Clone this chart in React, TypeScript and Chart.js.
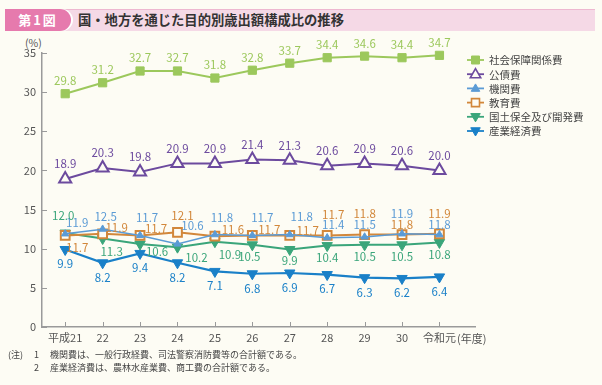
import React, { useEffect, useRef } from "react";
import { Chart, registerables } from "chart.js";
Chart.register(...registerables);

const categories = ["平成21", "22", "23", "24", "25", "26", "27", "28", "29", "30", "令和元"];
const seriesNames = ["社会保障関係費", "公債費", "機関費", "教育費", "国土保全及び開発費", "産業経済費"];
const socialSecurity = [29.8, 31.2, 32.7, 32.7, 31.8, 32.8, 33.7, 34.4, 34.6, 34.4, 34.7];
const publicDebt = [18.9, 20.3, 19.8, 20.9, 20.9, 21.4, 21.3, 20.6, 20.9, 20.6, 20.0];
const administration = [11.9, 12.5, 11.7, 10.6, 11.8, 11.7, 11.8, 11.4, 11.5, 11.9, 11.8];
const education = [11.7, 11.9, 11.7, 12.1, 11.6, 11.7, 11.7, 11.7, 11.8, 11.8, 11.9];
const landConservation = [12.0, 11.3, 10.6, 10.2, 10.9, 10.5, 9.9, 10.4, 10.5, 10.5, 10.8];
const industry = [9.9, 8.2, 9.4, 8.2, 7.1, 6.8, 6.9, 6.7, 6.3, 6.2, 6.4];
const yTicks = [0, 5, 10, 15, 20, 25, 30, 35];
const notes = [
  ["(注)", "1", "機関費は、一般行政経費、司法警察消防費等の合計額である。"],
  ["", "2", "産業経済費は、農林水産業費、商工費の合計額である。"],
];

const BG = "#fdfcf4";
const FONT = "'Noto Sans CJK JP', 'Noto Sans', sans-serif";

type Style = {
  color: string;
  pointStyle: string;
  radius: number;
  legendSize: number;
  fill: string;
  rotation: number;
  lineWidth: number;
  pointBorder: number;
  offsets: number[][];
};

const same = (dx: number, dy: number) => categories.map(() => [dx, dy]);

const styles: Style[] = [
  { color: "#9cc85c", pointStyle: "rect", radius: 5.8, legendSize: 4, fill: "#9cc85c", rotation: 0, lineWidth: 2, pointBorder: 1, offsets: same(0, -13) },
  { color: "#6c4a9e", pointStyle: "triangle", radius: 7, legendSize: 5.5, fill: BG, rotation: 0, lineWidth: 2, pointBorder: 2, offsets: same(0, -15) },
  {
    color: "#5b9bd5", pointStyle: "triangle", radius: 4.2, legendSize: 4.5, fill: "#5b9bd5", rotation: 0, lineWidth: 1.5, pointBorder: 1,
    offsets: [[12, -11], [3, -13], [7, -18], [15, -18], [7, -17], [10, -18], [12, -18], [6, -13], [0, -12], [0, -20], [0, -10]],
  },
  {
    color: "#d2873a", pointStyle: "rect", radius: 6.2, legendSize: 4, fill: BG, rotation: 0, lineWidth: 2, pointBorder: 2,
    offsets: [[12, 12], [14, -6], [16, -7], [5, -17], [18, -7], [17, -6], [18, -5], [6, -21], [0, -21], [0, -10], [0, -20]],
  },
  {
    color: "#3aa57a", pointStyle: "triangle", radius: 6, legendSize: 5, fill: "#3aa57a", rotation: 180, lineWidth: 2, pointBorder: 1,
    offsets: [[-2, -17], [9, 13], [17, 8], [19, 10], [15, 13], [-3, 12], [0, 11], [0, 12], [0, 12], [0, 12], [0, 12]],
  },
  { color: "#1a80c8", pointStyle: "triangle", radius: 6, legendSize: 5, fill: "#1a80c8", rotation: 180, lineWidth: 2.2, pointBorder: 1, offsets: same(0, 14.5) },
];

const seriesValues = [socialSecurity, publicDebt, administration, education, landConservation, industry];

function legendMarker(ctx: CanvasRenderingContext2D, st: Style, x: number, y: number) {
  const s = st.legendSize;
  ctx.beginPath();
  if (st.pointStyle === "rect") {
    ctx.rect(x - s, y - s, 2 * s, 2 * s);
  } else if (st.rotation === 0) {
    ctx.moveTo(x, y - s);
    ctx.lineTo(x + s * 0.95, y + s * 0.65);
    ctx.lineTo(x - s * 0.95, y + s * 0.65);
    ctx.closePath();
  } else {
    ctx.moveTo(x, y + s);
    ctx.lineTo(x + s * 0.95, y - s * 0.65);
    ctx.lineTo(x - s * 0.95, y - s * 0.65);
    ctx.closePath();
  }
  ctx.fillStyle = st.fill;
  ctx.fill();
  ctx.strokeStyle = st.color;
  ctx.lineWidth = st.pointBorder === 2 ? 1.6 : 1;
  ctx.stroke();
}

const labelPlugin = {
  id: "valueLabels",
  afterDatasetsDraw(chart: any) {
    const ctx = chart.ctx;
    ctx.save();
    ctx.font = `11.5px ${FONT}`;
    ctx.textAlign = "center";
    ctx.textBaseline = "middle";
    chart.data.datasets.forEach((ds: any, di: number) => {
      const meta = chart.getDatasetMeta(di);
      const st = styles[di];
      ctx.fillStyle = st.color;
      meta.data.forEach((el: any, i: number) => {
        const v = ds.data[i].y;
        const [dx, dy] = st.offsets[i];
        ctx.fillText(v.toFixed(1), el.x + dx, el.y + dy);
      });
    });
    ctx.restore();
  },
};

const axisTickPlugin = {
  id: "innerTicks",
  afterDraw(chart: any) {
    const ctx = chart.ctx;
    const x = chart.scales.x;
    const y = chart.scales.y;
    const area = chart.chartArea;
    ctx.save();
    ctx.strokeStyle = "#9a9a9a";
    ctx.lineWidth = 1;
    yTicks.forEach((t) => {
      const py = Math.round(y.getPixelForValue(t)) + 0.5;
      ctx.beginPath();
      ctx.moveTo(area.left, py);
      ctx.lineTo(area.left + 5, py);
      ctx.stroke();
    });
    categories.forEach((_, i) => {
      const px = Math.round(x.getPixelForValue(i)) + 0.5;
      ctx.beginPath();
      ctx.moveTo(px, area.bottom);
      ctx.lineTo(px, area.bottom - 5);
      ctx.stroke();
    });
    ctx.restore();
  },
};

const legendPlugin = {
  id: "customLegend",
  afterDraw(chart: any) {
    const ctx = chart.ctx;
    ctx.save();
    seriesNames.forEach((name, i) => {
      const st = styles[i];
      const y = 60 + i * 14.2;
      ctx.strokeStyle = st.color;
      ctx.lineWidth = 1.8;
      ctx.beginPath();
      ctx.moveTo(467, y);
      ctx.lineTo(484, y);
      ctx.stroke();
      legendMarker(ctx, st, 475.5, y);
      ctx.font = `10.5px ${FONT}`;
      ctx.fillStyle = "#444";
      ctx.textAlign = "left";
      ctx.textBaseline = "middle";
      ctx.fillText(name, 489, y + 0.5);
    });
    ctx.restore();
  },
};

export default function App() {
  const ref = useRef<HTMLCanvasElement>(null);
  useEffect(() => {
    document.body.style.margin = "0";
    document.body.style.background = BG;
    const chart = new Chart(ref.current!, {
      type: "line",
      data: {
        datasets: seriesNames.map((name, di) => {
          const st = styles[di];
          return {
            label: name,
            data: seriesValues[di].map((v, i) => ({ x: i, y: v })),
            borderColor: st.color,
            backgroundColor: st.fill,
            borderWidth: st.lineWidth,
            pointStyle: st.pointStyle as any,
            pointRadius: st.radius,
            pointRotation: st.rotation,
            pointBackgroundColor: st.fill,
            pointBorderColor: st.color,
            pointBorderWidth: st.pointBorder,
            tension: 0,
            clip: false as any,
          };
        }),
      },
      options: {
        animation: false,
        responsive: false,
        devicePixelRatio: 1,
        layout: { padding: { left: 0, right: 127, top: 53, bottom: 38 } },
        plugins: { legend: { display: false }, tooltip: { enabled: false } },
        scales: {
          x: {
            type: "linear",
            min: -0.62,
            max: 10.95,
            afterFit: (s: any) => { s.height = 20; },
            afterBuildTicks: (s: any) => { s.ticks = categories.map((_, i) => ({ value: i })); },
            grid: { display: false, drawTicks: false },
            border: { color: "#9a9a9a", width: 1.5 },
            ticks: {
              padding: 4,
              color: "#555",
              font: { size: 11, family: FONT },
              callback: (v: any) => categories[v as number] ?? "",
              maxRotation: 0,
              autoSkip: false,
            },
          },
          y: {
            min: 0,
            max: 35,
            afterFit: (s: any) => { s.width = 42; },
            afterBuildTicks: (s: any) => { s.ticks = yTicks.map((v) => ({ value: v })); },
            grid: { display: false, drawTicks: false },
            border: { color: "#9a9a9a", width: 1.5 },
            ticks: { padding: 6, color: "#555", font: { size: 11, family: FONT } },
          },
        },
      },
      plugins: [axisTickPlugin, labelPlugin, legendPlugin],
    });
    return () => chart.destroy();
  }, []);

  return (
    <div style={{ position: "fixed", left: 0, top: 0, width: 602, height: 385, background: BG, fontFamily: FONT, overflow: "hidden" }}>
      <div style={{ position: "absolute", left: 5, top: 9, width: 590, height: 21, background: "#f5d9e6", borderTop: "1px solid #eeb8d0" }} />
      <div style={{ position: "absolute", left: 5, top: 9, width: 66, height: 22, background: "#e67aad", borderRadius: "0 11px 11px 0", boxShadow: "2px 0 0 #fff", color: "#fff", fontWeight: 700, fontSize: 13, letterSpacing: 2, lineHeight: "22px", textAlign: "center" }}>第1図</div>
      <div style={{ position: "absolute", left: 78, top: 9, height: 22, lineHeight: "22px", fontSize: 13.3, fontWeight: 700, color: "#333", whiteSpace: "nowrap" }}>国・地方を通じた目的別歳出額構成比の推移</div>
      <div style={{ position: "absolute", left: 25, top: 35, fontSize: 10.5, color: "#555" }}>(%)</div>
      <canvas ref={ref} width={602} height={385} style={{ position: "absolute", left: 0, top: 0 }} />
      <div style={{ position: "absolute", left: 457, top: 330, fontSize: 11, color: "#555", whiteSpace: "nowrap" }}>(年度)</div>
      {notes.map((n, i) => (
        <div key={i} style={{ position: "absolute", top: 348 + i * 13, left: 8, fontSize: 9, color: "#444", whiteSpace: "nowrap", lineHeight: "13px" }}>
          <span style={{ display: "inline-block", width: 26 }}>{n[0]}</span>
          <span style={{ display: "inline-block", width: 16 }}>{n[1]}</span>
          <span>{n[2]}</span>
        </div>
      ))}
    </div>
  );
}
